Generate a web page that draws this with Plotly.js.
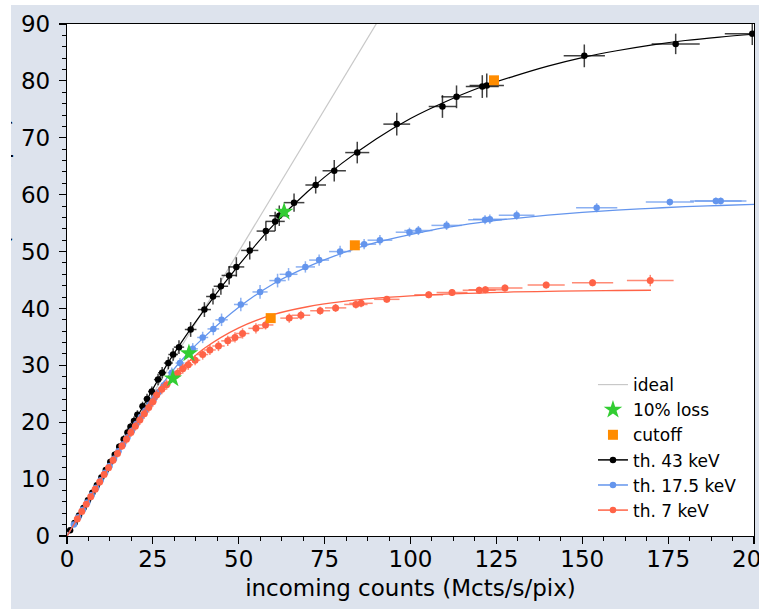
<!DOCTYPE html>
<html>
<head>
<meta charset="utf-8">
<script src="https://cdn.plot.ly/plotly-3.0.1.min.js"></script>
<style>
  html, body { margin: 0; padding: 0; background: #ffffff; }
  #wrap { position: relative; width: 762px; height: 611px; overflow: hidden; }
  #chart { position: absolute; left: 0; top: 0; width: 762px; height: 611px; }
  .mask { position: absolute; background: #ffffff; z-index: 10; }
</style>
</head>
<body>
<div id="wrap">
  <div id="chart"></div>
  <div class="mask" style="left:0;top:0;width:11px;height:611px;"></div>
  <div class="mask" style="left:0;top:0;width:762px;height:5px;"></div>
  <div class="mask" style="left:759px;top:0;width:3px;height:611px;"></div>
  <div class="mask" style="left:0;top:609px;width:762px;height:2px;"></div>
</div>
<script>
// ---- data ----
const idealX = [0, 95];
const idealY = [0, 95];

// th. 43 keV
const blackX = [0.9, 2.2, 3.5, 4.8, 6.1, 7.4, 8.7, 10.0, 11.3, 12.6, 13.9, 15.2, 16.5, 17.6, 18.5, 19.5, 20.5, 22.0, 23.3, 24.7, 26.5, 27.7, 29.5, 30.9, 32.6, 36.0, 40.0, 42.5, 44.8, 47.2, 49.3, 53.2, 57.9, 60.6, 61.8, 66.1, 72.4, 77.8, 84.5, 96.0, 109.3, 113.4, 120.9, 122.2, 150.6, 177.2, 199.5];
const blackY = [1.0, 2.3, 3.6, 4.9, 6.3, 7.6, 8.9, 10.3, 11.6, 13.0, 14.3, 15.7, 17.0, 18.2, 19.2, 20.2, 21.3, 22.8, 24.1, 25.4, 27.5, 28.7, 30.4, 31.9, 33.2, 36.3, 39.8, 42.1, 43.9, 45.8, 47.3, 50.2, 53.6, 55.3, 56.3, 58.6, 61.7, 64.2, 67.4, 72.4, 75.5, 77.2, 79.0, 79.2, 84.4, 86.5, 88.3];
const blackEX = [0.1,0.1,0.2,0.2,0.3,0.3,0.4,0.4,0.5,0.5,0.6,0.6,0.7,0.7,0.8,0.8,0.9,0.9,1.0,1.1,1.2,1.2,1.3,1.4,1.5,1.7,1.9,2.0,2.1,2.2,2.3,2.5,2.7,2.8,2.9,3.0,3.0,3.4,3.5,3.9,4.0,4.4,4.8,5.0,6.0,7.0,8.0];
const blackEY = [0.2,0.2,0.3,0.3,0.4,0.4,0.5,0.5,0.5,0.6,0.6,0.6,0.7,0.7,0.7,0.8,0.8,0.8,0.9,0.9,1.0,1.0,1.1,1.1,1.2,1.3,1.3,1.4,1.5,1.6,1.7,1.6,1.7,1.7,1.8,1.6,1.5,1.9,1.9,2.0,2.0,2.0,2.0,2.1,2.0,1.8,2.0];

// th. 17.5 keV
const blueX = [2.0, 3.3, 4.6, 5.9, 7.2, 8.5, 9.8, 11.1, 12.4, 13.7, 15.0, 16.3, 17.6, 18.9, 20.2, 21.5, 22.8, 24.1, 25.4, 26.7, 28.2, 30.5, 32.9, 36.6, 39.5, 42.6, 45.0, 50.6, 56.2, 61.3, 64.5, 69.4, 73.4, 79.5, 86.5, 91.1, 99.7, 102.3, 110.5, 121.7, 123.1, 130.9, 154.2, 175.5, 188.9, 190.3];
const blueY = [2.0, 3.3, 4.6, 5.9, 7.2, 8.5, 9.8, 11.1, 12.3, 13.6, 14.9, 16.1, 17.3, 18.5, 19.7, 20.9, 22.0, 23.1, 24.2, 25.3, 26.5, 28.7, 30.4, 32.9, 34.9, 36.4, 38.0, 40.7, 42.9, 44.9, 46.0, 47.3, 48.5, 50.0, 51.3, 52.0, 53.4, 53.7, 54.6, 55.6, 55.7, 56.4, 57.7, 58.7, 58.9, 58.9];
const blueEX = [0.1,0.1,0.2,0.2,0.3,0.3,0.4,0.4,0.5,0.5,0.6,0.6,0.7,0.7,0.8,0.8,0.9,0.9,1.0,1.0,1.1,1.2,1.3,1.5,1.6,1.7,1.8,2.0,2.2,2.4,2.6,2.8,2.9,3.2,3.5,3.6,4.0,4.1,4.4,4.9,4.9,5.2,6.0,7.0,7.5,7.5];
const blueEY = [0.2,0.2,0.2,0.3,0.3,0.3,0.4,0.4,0.4,0.5,0.5,0.5,0.6,0.6,0.6,0.7,0.7,0.7,0.8,0.8,0.8,0.9,0.9,1.0,1.0,1.1,1.1,1.2,1.2,1.2,1.1,1.0,1.0,1.0,0.9,0.9,0.8,0.8,0.8,0.8,0.8,0.8,0.8,0.6,0.6,0.6];

// th. 7 keV
const redX = [3.0, 4.3, 5.6, 6.9, 8.2, 9.5, 10.8, 12.1, 13.4, 14.7, 16.0, 17.3, 18.6, 19.9, 21.2, 22.5, 23.8, 25.0, 26.1, 27.6, 29.0, 32.2, 33.7, 35.3, 37.3, 39.5, 41.6, 44.1, 46.8, 48.9, 51.1, 55.0, 57.8, 64.7, 68.1, 73.7, 78.2, 84.1, 85.6, 93.1, 105.3, 112.1, 120.0, 121.8, 127.5, 139.5, 153.0, 169.8];
const redY = [3.0, 4.3, 5.6, 6.9, 8.2, 9.5, 10.8, 12.0, 13.3, 14.5, 15.8, 17.0, 18.2, 19.3, 20.4, 21.5, 22.6, 23.6, 24.8, 25.8, 26.6, 28.6, 29.4, 30.1, 30.9, 31.9, 32.7, 33.4, 34.3, 34.9, 35.6, 36.5, 37.1, 38.3, 38.8, 39.6, 40.1, 40.7, 40.9, 41.6, 42.4, 42.8, 43.2, 43.3, 43.6, 44.1, 44.5, 44.9];
const redEX = [0.3,0.3,0.4,0.4,0.5,0.5,0.6,0.6,0.7,0.7,0.8,0.8,0.9,0.9,1.0,1.0,1.0,1.1,1.1,1.2,1.2,1.3,1.3,1.4,1.5,1.6,1.7,1.8,1.9,2.0,2.0,2.2,2.3,2.6,2.7,2.9,3.1,3.4,3.4,3.7,4.2,4.5,4.8,4.9,5.1,5.4,6.0,6.8];
const redEY = [0.4,0.4,0.5,0.5,0.5,0.6,0.6,0.6,0.7,0.7,0.7,0.8,0.8,0.8,0.9,0.9,0.9,0.9,0.9,0.9,0.9,0.9,0.9,0.9,0.9,0.9,0.9,0.9,0.9,0.9,0.9,0.9,0.8,0.8,0.8,0.7,0.7,0.7,0.7,0.6,0.6,0.6,0.6,0.6,0.6,0.6,0.6,1.0];

// fitted curves
const fitBlackX = [0, 10, 20, 30, 40, 50, 60, 70, 80, 90, 100, 110, 120, 130, 140, 150, 160, 170, 180, 190, 200];
const fitBlackY = [0, 10, 20.5, 31, 39.8, 47.6, 54.6, 60.5, 65.5, 69.8, 73.4, 76.3, 78.8, 80.8, 82.6, 84.1, 85.3, 86.3, 87.1, 87.7, 88.2];
const fitBlueX = [0, 10, 20, 25, 30, 35, 40, 50, 60, 70, 80, 90, 100, 110, 120, 130, 140, 150, 160, 170, 180, 190, 200];
const fitBlueY = [0, 10, 19.8, 24.3, 28.5, 32.0, 35.0, 40.2, 44.3, 47.3, 49.7, 51.6, 53.0, 54.2, 55.1, 55.8, 56.4, 56.9, 57.3, 57.6, 57.9, 58.1, 58.3];
const fitRedX = [0, 10, 20, 25, 30, 35, 40, 50, 60, 70, 80, 90, 100, 110, 120, 130, 140, 150, 160, 170];
const fitRedY = [0, 10, 19.6, 23.8, 27.4, 30.4, 33.0, 36.6, 38.9, 40.3, 41.2, 41.8, 42.2, 42.5, 42.7, 42.9, 43.0, 43.1, 43.15, 43.2];

// markers
const lossX = [63.2, 35.5, 30.8];
const lossY = [57.0, 32.1, 27.7];
const cutX = [124.3, 83.8, 59.3];
const cutY = [80.1, 51.1, 38.3];

const names = ['ideal', '10% loss', 'cutoff', 'th. 43 keV', 'th. 17.5 keV', 'th. 7 keV'];

// ---- styles ----
const FONT = 'DejaVu Sans, Verdana, sans-serif';
const cBlack = '#000000', cBlue = '#6495ED', cRed = '#FF6347';
const aBlack = 'rgba(0,0,0,0.75)', aBlue = 'rgba(100,149,237,0.75)', aRed = 'rgba(255,99,71,0.75)';

function pts(x, y, ex, ey, col, acol, sz) {
  return {
    x: x, y: y, type: 'scatter', mode: 'markers', showlegend: false,
    marker: { color: col, size: sz },
    error_x: { type: 'data', array: ex, visible: true, color: acol, thickness: 1.5, width: 0 },
    error_y: { type: 'data', array: ey, visible: true, color: acol, thickness: 1.5, width: 0 },
    hoverinfo: 'skip'
  };
}
function fit(x, y, col, w) {
  return { x: x, y: y, type: 'scatter', mode: 'lines', showlegend: false,
    line: { color: col, width: w, shape: 'spline', smoothing: 1 }, hoverinfo: 'skip' };
}
function legendKey(name, col, rank) {
  return { x: [null], y: [null], type: 'scatter', mode: 'lines+markers', name: name,
    legendrank: rank, line: { color: col, width: 1.5 }, marker: { color: col, size: 6.5 } };
}

const traces = [
  { x: idealX, y: idealY, type: 'scatter', mode: 'lines', name: names[0], legendrank: 1,
    line: { color: '#c8c8c8', width: 1.2 } },
  fit(fitBlackX, fitBlackY, cBlack, 1.2),
  pts(blackX, blackY, blackEX, blackEY, cBlack, aBlack, 6.5),
  fit(fitBlueX, fitBlueY, cBlue, 1.3),
  pts(blueX, blueY, blueEX, blueEY, cBlue, aBlue, 6.5),
  fit(fitRedX, fitRedY, cRed, 1.3),
  pts(redX, redY, redEX, redEY, cRed, aRed, 7),
  { x: lossX, y: lossY, type: 'scatter', mode: 'markers', name: names[1], legendrank: 2,
    marker: { symbol: 'star', size: 14, color: '#32CD32' } },
  { x: cutX, y: cutY, type: 'scatter', mode: 'markers', name: names[2], legendrank: 3,
    marker: { symbol: 'square', size: 10, color: '#FF8C00' } },
  legendKey(names[3], cBlack, 4),
  legendKey(names[4], cBlue, 5),
  legendKey(names[5], cRed, 6)
];

const axisCommon = {
  showgrid: false, zeroline: false, showline: true, linecolor: '#000', linewidth: 1.2,
  mirror: true, ticks: 'outside', ticklen: 7, tickwidth: 1.2, tickcolor: '#000',
  tickfont: { family: FONT, size: 23, color: '#000' }, tickmode: 'linear', tick0: 0
};

const layout = {
  width: 762, height: 611,
  margin: { l: 67, r: 8, t: 24, b: 75 },
  paper_bgcolor: '#dde3ed', plot_bgcolor: '#ffffff',
  font: { family: FONT, color: '#000' },
  xaxis: Object.assign({}, axisCommon, {
    range: [0, 200], dtick: 25, ticklabeloverflow: 'allow', ticklabelstandoff: -5,
    minor: { dtick: 6.25, ticks: 'outside', ticklen: 4, tickwidth: 1, tickcolor: '#000', showgrid: false },
    title: { text: 'incoming counts (Mcts/s/pix)', font: { family: FONT, size: 23, color: '#000' }, standoff: 9 }
  }),
  yaxis: Object.assign({}, axisCommon, {
    range: [0, 90], dtick: 10, ticklabelstandoff: 4,
    minor: { dtick: 2, ticks: 'outside', ticklen: 4, tickwidth: 1, tickcolor: '#000', showgrid: false }
  }),
  annotations: [{
    text: 'measured counts (Mcts/s/pix)', textangle: -90, showarrow: false,
    xref: 'paper', yref: 'paper', x: -0.0955, y: 0.5, xanchor: 'center', yanchor: 'middle',
    font: { family: FONT, size: 22, color: '#000' }
  }],
  legend: {
    x: 0.7656, y: 0.330, xanchor: 'left', yanchor: 'top',
    bgcolor: 'rgba(255,255,255,0)', borderwidth: 0, itemwidth: 30,
    font: { family: FONT, size: 17, color: '#000' }
  },
  showlegend: true
};

Plotly.newPlot('chart', traces, layout, { staticPlot: true, displayModeBar: false });
</script>
</body>
</html>
